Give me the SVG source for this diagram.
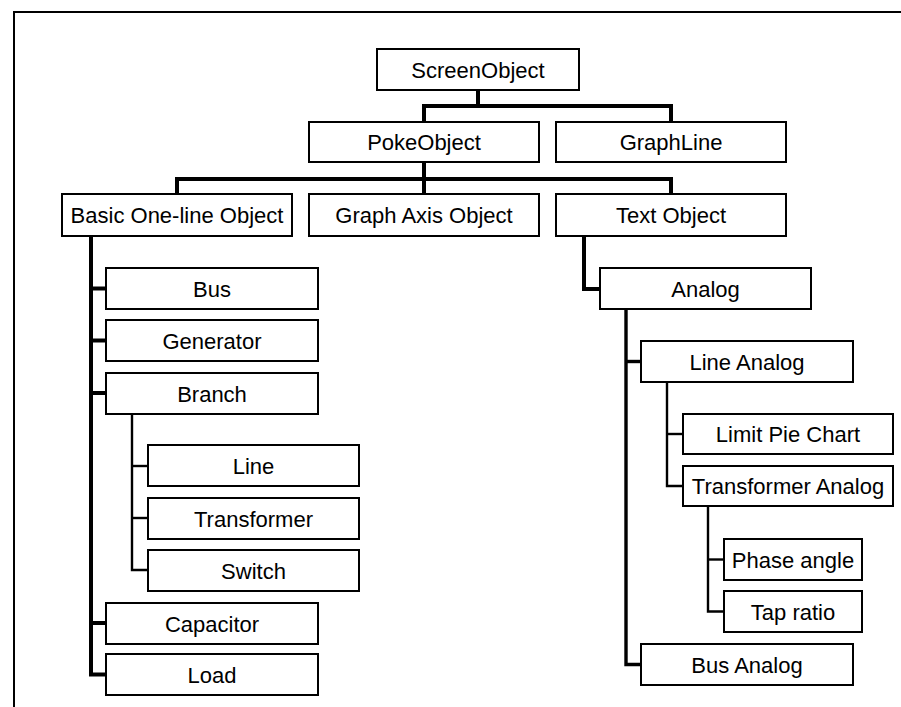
<svg xmlns="http://www.w3.org/2000/svg" width="901" height="707" viewBox="0 0 901 707">
  <style>
    .frame { fill: none; stroke: #000; stroke-width: 2; }
    .box rect { fill: #fff; stroke: #000; stroke-width: 2; }
    .box text { font-family: "Liberation Sans", Arial, sans-serif; font-size: 22px; fill: #000; text-anchor: middle; }
    .wire { fill: none; stroke: #000; stroke-linejoin: miter; stroke-linecap: butt; }
    .w4 { stroke-width: 4; }
    .w3 { stroke-width: 3.4; }
    .w2 { stroke-width: 2.4; }
  </style>

  <!-- page frame -->
  <path class="frame" d="M14 707 V12 H901"/>

  <!-- connectors -->
  <g id="connectors">
    <path class="wire w4" d="M478 90 V106"/>
    <path class="wire w4" d="M424 122 V106 H671 V122"/>
    <path class="wire w4" d="M424 162 V194"/>
    <path class="wire w4" d="M177 194 V179 H671 V194"/>
    <!-- Basic One-line Object children -->
    <path class="wire w4" d="M91 236 V674.5 H106"/>
    <path class="wire w4" d="M91 288.5 H106"/>
    <path class="wire w4" d="M91 340.5 H106"/>
    <path class="wire w4" d="M91 393 H106"/>
    <path class="wire w4" d="M91 623 H106"/>
    <!-- Branch children -->
    <path class="wire w2" d="M132 414 V570 H148"/>
    <path class="wire w2" d="M132 466 H148"/>
    <path class="wire w2" d="M132 518 H148"/>
    <!-- Text Object children -->
    <path class="wire w4" d="M584 236 V289 H600"/>
    <!-- Analog children -->
    <path class="wire w3" d="M626 309 V664.5 H641"/>
    <path class="wire w3" d="M626 361.5 H641"/>
    <!-- Line Analog children -->
    <path class="wire w2" d="M667 382 V486 H683"/>
    <path class="wire w2" d="M667 434 H683"/>
    <!-- Transformer Analog children -->
    <path class="wire w2" d="M708 506 V611.5 H724"/>
    <path class="wire w2" d="M708 559.5 H724"/>
  </g>

  <!-- nodes -->
  <g id="screen-object" class="box"><rect x="377" y="49" width="202" height="41"/><text x="478" y="77.5">ScreenObject</text></g>
  <g id="poke-object" class="box"><rect x="309" y="122" width="230" height="40"/><text x="424" y="150">PokeObject</text></g>
  <g id="graph-line" class="box"><rect x="556" y="122" width="230" height="40"/><text x="671" y="150">GraphLine</text></g>

  <g id="basic-one-line-object" class="box"><rect x="62" y="194" width="230" height="42"/><text x="177" y="223">Basic One-line Object</text></g>
  <g id="graph-axis-object" class="box"><rect x="309" y="194" width="230" height="42"/><text x="424" y="223">Graph Axis Object</text></g>
  <g id="text-object" class="box"><rect x="556" y="194" width="230" height="42"/><text x="671" y="223">Text Object</text></g>

  <g id="bus" class="box"><rect x="106" y="268" width="212" height="41"/><text x="212" y="296.5">Bus</text></g>
  <g id="generator" class="box"><rect x="106" y="320" width="212" height="41"/><text x="212" y="348.5">Generator</text></g>
  <g id="branch" class="box"><rect x="106" y="373" width="212" height="41"/><text x="212" y="401.5">Branch</text></g>
  <g id="line" class="box"><rect x="148" y="445" width="211" height="41"/><text x="253.5" y="473.5">Line</text></g>
  <g id="transformer" class="box"><rect x="148" y="498" width="211" height="41"/><text x="253.5" y="526.5">Transformer</text></g>
  <g id="switch" class="box"><rect x="148" y="550" width="211" height="41"/><text x="253.5" y="578.5">Switch</text></g>
  <g id="capacitor" class="box"><rect x="106" y="603" width="212" height="41"/><text x="212" y="631.5">Capacitor</text></g>
  <g id="load" class="box"><rect x="106" y="654" width="212" height="41"/><text x="212" y="682.5">Load</text></g>

  <g id="analog" class="box"><rect x="600" y="268" width="211" height="41"/><text x="705.5" y="296.5">Analog</text></g>
  <g id="line-analog" class="box"><rect x="641" y="341" width="212" height="41"/><text x="747" y="369.5">Line Analog</text></g>
  <g id="limit-pie-chart" class="box"><rect x="683" y="414" width="210" height="40"/><text x="788" y="442">Limit Pie Chart</text></g>
  <g id="transformer-analog" class="box"><rect x="683" y="466" width="210" height="40"/><text x="788" y="494">Transformer Analog</text></g>
  <g id="phase-angle" class="box"><rect x="724" y="539" width="138" height="41"/><text x="793" y="567.5">Phase angle</text></g>
  <g id="tap-ratio" class="box"><rect x="724" y="591" width="138" height="41"/><text x="793" y="619.5">Tap ratio</text></g>
  <g id="bus-analog" class="box"><rect x="641" y="644" width="212" height="41"/><text x="747" y="672.5">Bus Analog</text></g>
</svg>
